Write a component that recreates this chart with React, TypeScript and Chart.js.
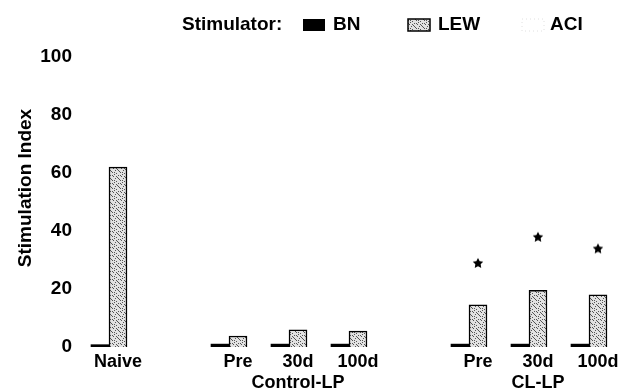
import React, { useEffect, useRef } from 'react';
import { Chart, registerables } from 'chart.js';

Chart.register(...registerables);

// ---- data ----
const positions = [0, 2, 3, 4, 6, 7, 8];
const tickLabels: (string | string[])[] = ['Naive', 'Pre', ['30d', 'Control-LP'], '100d', 'Pre', ['30d', 'CL-LP'], '100d'];
const bnValues = [0.8, 1, 1, 1, 1, 1, 1];
const lewValues = [62, 3.8, 5.9, 5.5, 14.5, 19.5, 18];
const aciValues = [0, 0, 0, 0, 0, 0, 0];
const sigPositions = [6, 7, 8];
const sigValues = [29, 38, 34];
const seriesNames = ['BN', 'LEW', 'ACI'];
const legendTitle = 'Stimulator:';
const yAxisTitle = 'Stimulation Index';

const FONT = '"Liberation Sans", Arial, Helvetica, sans-serif';

function makeStipple(): CanvasPattern {
  const c = document.createElement('canvas');
  c.width = 8;
  c.height = 8;
  const g = c.getContext('2d')!;
  g.fillStyle = '#e2e2e2';
  g.fillRect(0, 0, 8, 8);
  g.fillStyle = '#555';
  const dots = [[1, 0], [5, 1], [3, 2], [7, 3], [0, 4], [4, 5], [2, 6], [6, 7], [6, 2], [2, 4], [4, 0], [0, 7]];
  dots.forEach(([x, y]) => g.fillRect(x, y, 1, 1));
  return g.createPattern(c, 'repeat')!;
}

function makeStar(): HTMLCanvasElement {
  const c = document.createElement('canvas');
  c.width = 12;
  c.height = 12;
  const g = c.getContext('2d')!;
  g.fillStyle = '#000';
  g.beginPath();
  for (let i = 0; i < 10; i++) {
    const r = i % 2 === 0 ? 5.5 : 2.8;
    const a = -Math.PI / 2 + (i * Math.PI) / 5;
    const px = 6 + r * Math.cos(a);
    const py = 6.5 + r * Math.sin(a);
    if (i === 0) g.moveTo(px, py);
    else g.lineTo(px, py);
  }
  g.closePath();
  g.fill();
  return c;
}

export default function App() {
  const ref = useRef<HTMLCanvasElement | null>(null);

  useEffect(() => {
    document.body.style.margin = '0';
    const canvas = ref.current;
    if (!canvas) return;
    const stipple = makeStipple();
    const star = makeStar();

    const legendPlugin = {
      id: 'customLegend',
      afterDraw(chart: any) {
        const c = chart.ctx as CanvasRenderingContext2D;
        c.save();
        c.font = `bold 19px ${FONT}`;
        c.fillStyle = '#000';
        c.textBaseline = 'middle';
        c.textAlign = 'left';
        const y = 25;
        c.fillText(legendTitle, 182, y);
        // BN
        c.fillStyle = '#000';
        c.fillRect(303, 19, 22, 12);
        c.fillText(seriesNames[0], 333, y);
        // LEW
        c.fillStyle = stipple;
        c.fillRect(408, 19, 22, 12);
        c.strokeStyle = '#000';
        c.lineWidth = 1.5;
        c.strokeRect(408, 19, 22, 12);
        c.fillStyle = '#000';
        c.fillText(seriesNames[1], 438, y);
        // ACI
        c.fillStyle = '#fff';
        c.fillRect(522, 19, 22, 12);
        c.strokeStyle = '#e0e0e0';
        c.lineWidth = 1;
        c.setLineDash([1, 3]);
        c.strokeRect(522, 19, 22, 12);
        c.setLineDash([]);
        c.fillStyle = '#000';
        c.fillText(seriesNames[2], 550, y);

        // y-axis title
        c.save();
        c.translate(26, 188);
        c.rotate(-Math.PI / 2);
        c.textAlign = 'center';
        c.font = `bold 19px ${FONT}`;
        c.fillText(yAxisTitle, 0, 0);
        c.restore();
        c.restore();
      },
    };

    const chart = new Chart(canvas, {
      type: 'bar',
      data: {
        datasets: [
          {
            type: 'bar',
            label: seriesNames[0],
            data: positions.map((x, i) => ({ x, y: bnValues[i] })),
            backgroundColor: '#000',
            borderColor: '#000',
            borderWidth: 0,
            barThickness: 18,
          },
          {
            type: 'bar',
            label: seriesNames[1],
            data: positions.map((x, i) => ({ x, y: lewValues[i] })),
            backgroundColor: stipple as any,
            borderColor: '#000',
            borderWidth: 1.5,
            barThickness: 18,
          },
          {
            type: 'bar',
            label: seriesNames[2],
            data: positions.map((x, i) => ({ x, y: aciValues[i] })),
            backgroundColor: '#fff',
            borderWidth: 0,
            barThickness: 18,
          },
          {
            type: 'line',
            label: '*',
            data: sigPositions.map((x, i) => ({ x, y: sigValues[i] })),
            showLine: false,
            pointStyle: star as any,
            pointRadius: 6,
            borderColor: '#000',
            backgroundColor: '#000',
          } as any,
        ],
      },
      options: {
        animation: false,
        responsive: false,
        layout: { padding: { top: 57, right: 10, left: 0, bottom: 0 } },
        plugins: { legend: { display: false }, tooltip: { enabled: false } },
        scales: {
          x: {
            type: 'linear',
            offset: false,
            min: -0.55,
            max: 8.3,
            grid: { display: false, drawTicks: false },
            border: { display: false },
            afterBuildTicks: (s: any) => {
              s.ticks = positions.map((v) => ({ value: v }));
            },
            afterFit: (s: any) => {
              s.height = 45;
            },
            ticks: {
              autoSkip: false,
              maxRotation: 0,
              minRotation: 0,
              padding: 4,
              color: '#000',
              font: { family: FONT, size: 18, weight: 'bold' },
              callback: (v: any) => {
                const i = positions.indexOf(Number(v));
                return i >= 0 ? tickLabels[i] : '';
              },
            },
          },
          y: {
            min: 0,
            max: 100,
            grid: { display: false, drawTicks: false },
            border: { display: false },
            afterFit: (s: any) => {
              s.width = 85;
            },
            ticks: {
              stepSize: 20,
              padding: 13,
              color: '#000',
              font: { family: FONT, size: 19, weight: 'bold' },
            },
          },
        },
      },
      plugins: [legendPlugin],
    });
    return () => chart.destroy();
  }, []);

  return (
    <div style={{ width: 626, height: 392, background: '#fff' }}>
      <canvas ref={ref} width={626} height={392} style={{ display: 'block' }} />
    </div>
  );
}
